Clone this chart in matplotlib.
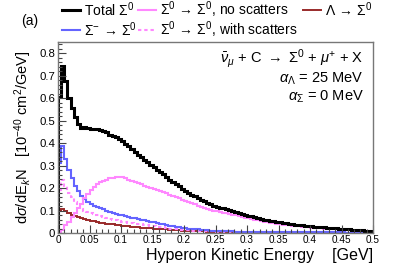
import matplotlib
matplotlib.use("Agg")
import matplotlib.pyplot as plt
import numpy as np
from matplotlib.lines import Line2D
from matplotlib.ticker import MultipleLocator, FuncFormatter

plt.rcParams["font.family"] = ["Liberation Sans", "DejaVu Sans"]
plt.rcParams["mathtext.fontset"] = "custom"
plt.rcParams["mathtext.rm"] = "Liberation Sans"
plt.rcParams["mathtext.it"] = "Liberation Sans:italic"
plt.rcParams["mathtext.bf"] = "Liberation Sans:bold"

# binning: 100 bins of 0.005 GeV between 0 and 0.5 GeV
bin_edges = np.linspace(0.0, 0.5, 101)

# Sigma- -> Sigma0
sigma_minus = [
    0.31, 0.387, 0.33, 0.28, 0.245, 0.21, 0.185, 0.165, 0.152, 0.14,
    0.13, 0.122, 0.116, 0.11, 0.105, 0.1, 0.092, 0.088, 0.085, 0.081,
    0.078, 0.075, 0.072, 0.068, 0.065, 0.062, 0.059, 0.056, 0.053, 0.05,
    0.047, 0.044, 0.042, 0.039, 0.034, 0.032, 0.03, 0.028, 0.026, 0.023,
    0.021, 0.02, 0.018, 0.017, 0.016, 0.014, 0.013, 0.012, 0.011, 0.01,
    0.0095, 0.009, 0.0085, 0.008, 0.0075, 0.007, 0.0066, 0.0062, 0.0058, 0.0055,
    0.0052, 0.005, 0.0048, 0.0046, 0.0044, 0.0042, 0.004, 0.0038, 0.0037, 0.0036,
    0.0035, 0.0034, 0.0033, 0.0032, 0.0031, 0.003, 0.003, 0.0029, 0.0029, 0.0028,
    0.0028, 0.0027, 0.0027, 0.0026, 0.0026, 0.0025, 0.0025, 0.0024, 0.0024, 0.0023,
    0.0023, 0.0022, 0.0022, 0.0021, 0.0021, 0.002, 0.002, 0.0019, 0.0019, 0.0018,
]

# Sigma0 -> Sigma0, with scatters
sigma0_scat = [
    0.19, 0.235, 0.21, 0.18, 0.16, 0.14, 0.12, 0.105, 0.1, 0.094,
    0.088, 0.084, 0.08, 0.076, 0.072, 0.068, 0.062, 0.06, 0.057, 0.054,
    0.051, 0.048, 0.046, 0.044, 0.042, 0.04, 0.038, 0.036, 0.034, 0.032,
    0.03, 0.028, 0.026, 0.025, 0.021, 0.02, 0.019, 0.017, 0.016, 0.014,
    0.013, 0.012, 0.011, 0.01, 0.0095, 0.009, 0.0085, 0.008, 0.0075, 0.007,
    0.0065, 0.006, 0.0056, 0.0053, 0.005, 0.0047, 0.0044, 0.0042, 0.004, 0.0038,
    0.0036, 0.0034, 0.0032, 0.003, 0.0029, 0.0028, 0.0027, 0.0026, 0.0025, 0.0024,
    0.0023, 0.0022, 0.0021, 0.002, 0.0019, 0.0018, 0.0018, 0.0017, 0.0017, 0.0016,
    0.0016, 0.0015, 0.0015, 0.0014, 0.0014, 0.0013, 0.0013, 0.0012, 0.0012, 0.0011,
    0.0011, 0.001, 0.001, 0.001, 0.0009, 0.0009, 0.0009, 0.0008, 0.0008, 0.0008,
]

# Sigma0 -> Sigma0, no scatters
sigma0_noscat = [
    0.004, 0.015, 0.035, 0.05, 0.07, 0.09, 0.11, 0.13, 0.155, 0.175,
    0.19, 0.205, 0.218, 0.226, 0.233, 0.238, 0.243, 0.246, 0.248, 0.248,
    0.247, 0.244, 0.238, 0.232, 0.226, 0.222, 0.217, 0.211, 0.206, 0.2,
    0.195, 0.19, 0.186, 0.181, 0.176, 0.171, 0.165, 0.16, 0.154, 0.149,
    0.144, 0.138, 0.132, 0.127, 0.122, 0.117, 0.112, 0.107, 0.103, 0.099,
    0.096, 0.093, 0.09, 0.087, 0.084, 0.081, 0.078, 0.075, 0.071, 0.068,
    0.065, 0.062, 0.059, 0.056, 0.053, 0.05, 0.047, 0.045, 0.043, 0.041,
    0.039, 0.037, 0.035, 0.034, 0.032, 0.03, 0.029, 0.028, 0.026, 0.025,
    0.024, 0.023, 0.022, 0.021, 0.02, 0.019, 0.018, 0.017, 0.016, 0.015,
    0.014, 0.013, 0.012, 0.011, 0.01, 0.009, 0.008, 0.007, 0.006, 0.005,
]

# Lambda -> Sigma0
lambda_sigma0 = [
    0.1, 0.108, 0.1, 0.09, 0.082, 0.077, 0.072, 0.067, 0.063, 0.059,
    0.055, 0.052, 0.049, 0.046, 0.044, 0.042, 0.04, 0.038, 0.036, 0.034,
    0.032, 0.03, 0.029, 0.028, 0.026, 0.025, 0.024, 0.023, 0.022, 0.021,
    0.02, 0.019, 0.018, 0.017, 0.016, 0.015, 0.014, 0.013, 0.012, 0.011,
    0.01, 0.0095, 0.009, 0.0085, 0.008, 0.0075, 0.007, 0.0065, 0.006, 0.0058,
    0.0055, 0.0052, 0.005, 0.0048, 0.0046, 0.0044, 0.0042, 0.004, 0.0038, 0.0036,
    0.0034, 0.0032, 0.003, 0.0029, 0.0028, 0.0027, 0.0026, 0.0025, 0.0024, 0.0023,
    0.0022, 0.0021, 0.002, 0.0019, 0.0018, 0.0017, 0.0016, 0.0015, 0.0015, 0.0014,
    0.0014, 0.0013, 0.0013, 0.0012, 0.0012, 0.0011, 0.0011, 0.001, 0.001, 0.0009,
    0.0009, 0.0008, 0.0008, 0.0007, 0.0007, 0.0006, 0.0006, 0.0006, 0.0005, 0.0005,
]

# total is the sum of the four channels
total = (
    np.array(sigma_minus)
    + np.array(sigma0_scat)
    + np.array(sigma0_noscat)
    + np.array(lambda_sigma0)
)

c_total = "black"
c_pink = "#ff88ff"
c_blue = "#6464ff"
c_red = "#992a2a"
dotted = (0, (1.6, 1.4))

fig = plt.figure(figsize=(4.15, 2.67), dpi=100)
ax = fig.add_axes([58 / 415, 1 - 233 / 267, 315 / 415, 191 / 267])

ax.stairs(lambda_sigma0, bin_edges, color=c_red, lw=1.4)
ax.stairs(sigma0_scat, bin_edges, color=c_pink, lw=1.5, ls=dotted)
ax.stairs(sigma_minus, bin_edges, color=c_blue, lw=1.5)
ax.stairs(sigma0_noscat, bin_edges, color=c_pink, lw=1.5)
ax.stairs(total, bin_edges, color=c_total, lw=2.2)

ax.set_xlim(0, 0.5)
ax.set_ylim(0, 0.85)

fmt = FuncFormatter(lambda v, p: "%g" % round(v, 3))
ax.xaxis.set_major_locator(MultipleLocator(0.05))
ax.xaxis.set_minor_locator(MultipleLocator(0.01))
ax.yaxis.set_major_locator(MultipleLocator(0.1))
ax.yaxis.set_minor_locator(MultipleLocator(0.02))
ax.xaxis.set_major_formatter(fmt)
ax.yaxis.set_major_formatter(fmt)
ax.tick_params(which="both", direction="in", top=False, right=False,
               color="#444444", width=0.8)
ax.tick_params(which="major", length=5.5)
ax.tick_params(which="minor", length=2.8)
ax.tick_params(axis="x", labelsize=7.2, pad=1.5)
ax.tick_params(axis="y", labelsize=8.2, pad=2)
for s in ax.spines.values():
    s.set_color("#777777")
    s.set_linewidth(1.0)

ax.set_xlabel("Hyperon Kinetic Energy    [GeV]", fontsize=11.5, loc="right",
              labelpad=2)
ax.set_ylabel(r"d$\sigma$/dE$_{k}$N   [10$^{-40}$ cm$^{2}$/GeV]", fontsize=10.5,
              labelpad=4)

ax.text(0.97, 0.915, r"$\bar{\nu}_{\mu}$ + C $\rightarrow$ $\Sigma^{0}$ + $\mu^{+}$ + X",
        transform=ax.transAxes, ha="right", va="center", fontsize=10.5)
ax.text(0.97, 0.805, r"$\alpha_{\Lambda}$ = 25 MeV",
        transform=ax.transAxes, ha="right", va="center", fontsize=10.5)
ax.text(0.97, 0.715, r"$\alpha_{\Sigma}$ = 0 MeV",
        transform=ax.transAxes, ha="right", va="center", fontsize=10.5)

fig.text(30 / 415, 1 - 21 / 267, "(a)", ha="center", va="center", fontsize=10)

# legend drawn in figure pixels
arrow = r"\,\rightarrow\,"
legend_items = [
    (62, 10, c_total, "-", 2.2, r"Total $\Sigma^{0}$"),
    (138, 10, c_pink, "-", 1.5, r"$\Sigma^{0}" + arrow + r"\Sigma^{0}$, no scatters"),
    (303, 10, c_red, "-", 1.4, r"$\Lambda" + arrow + r"\Sigma^{0}$"),
    (62, 30, c_blue, "-", 1.5, r"$\Sigma^{-}" + arrow + r"\Sigma^{0}$"),
    (138, 30, c_pink, dotted, 1.5, r"$\Sigma^{0}" + arrow + r"\Sigma^{0}$, with scatters"),
]
for x0, y0, col, ls, lw, label in legend_items:
    yf = 1 - y0 / 267
    fig.add_artist(Line2D([x0 / 415, (x0 + 18) / 415], [yf, yf], color=col,
                          ls=ls, lw=lw, transform=fig.transFigure))
    fig.text((x0 + 22) / 415, yf, label, ha="left", va="center", fontsize=10)

fig.savefig("out.png", dpi=100)
